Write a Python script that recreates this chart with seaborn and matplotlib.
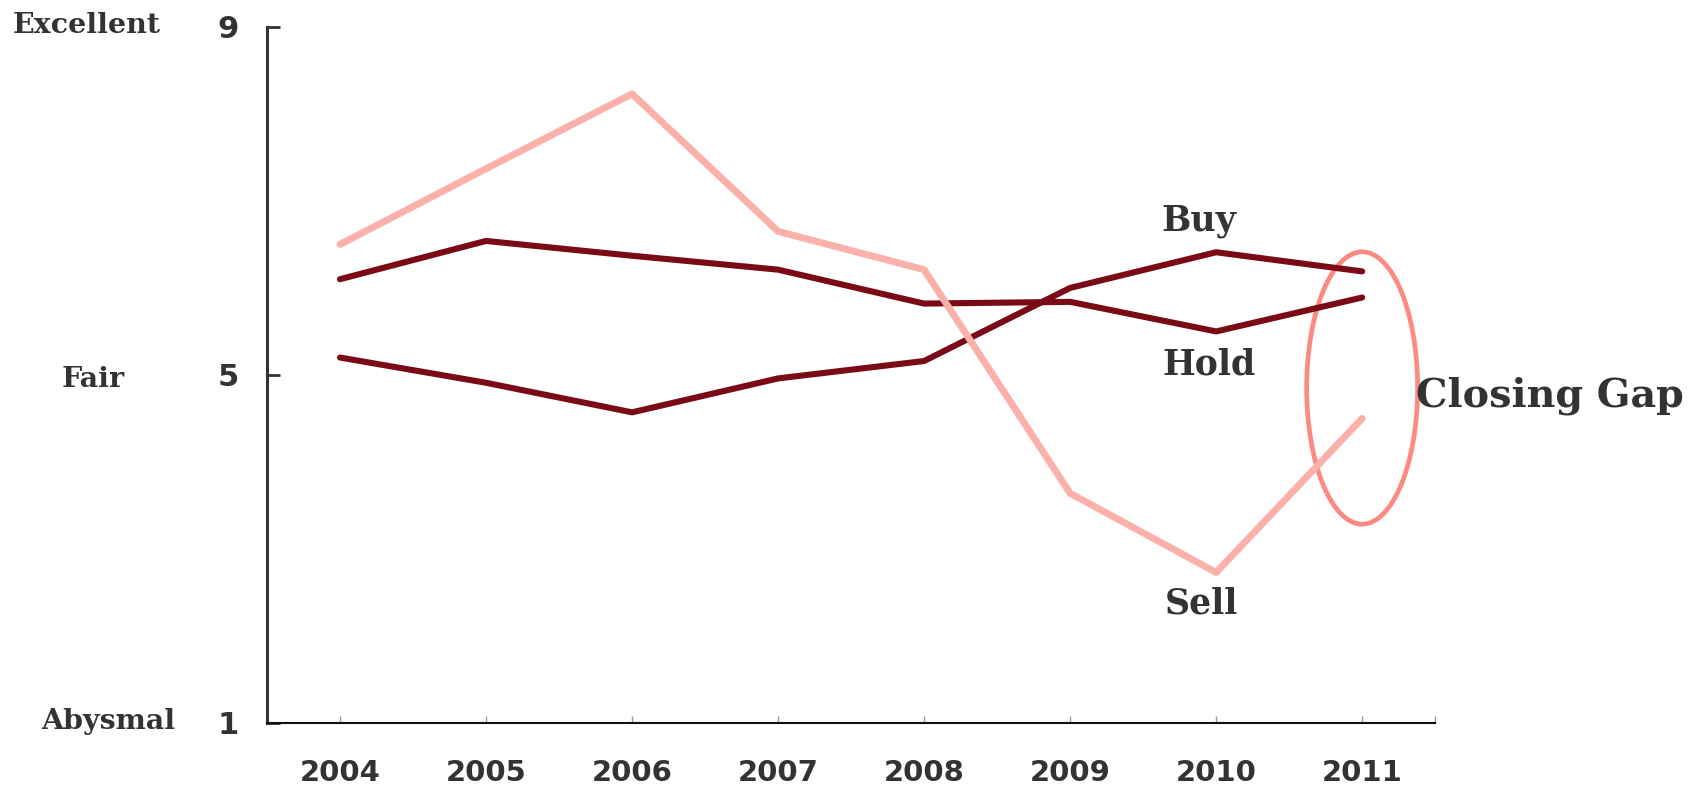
import matplotlib
matplotlib.use("Agg")
import matplotlib.pyplot as plt
from matplotlib.patches import Ellipse
import seaborn as sns
import pandas as pd

# Analyst recommendation ratings by year
years = [2004, 2005, 2006, 2007, 2008, 2009, 2010, 2011]
buy = [5.20, 4.91, 4.57, 4.96, 5.16, 6.00, 6.41, 6.19]
hold = [6.10, 6.54, 6.37, 6.21, 5.82, 5.84, 5.50, 5.89]
sell = [6.50, 7.37, 8.23, 6.65, 6.21, 3.64, 2.73, 4.50]

y_ticks = [1, 5, 9]
y_names = ["Abysmal", "Fair", "Excellent"]

df = pd.DataFrame({
    "year": years * 3,
    "rating": buy + hold + sell,
    "series": ["Buy"] * 8 + ["Hold"] * 8 + ["Sell"] * 8,
})

sns.set_theme(style="white")
plt.rcParams["font.family"] = ["DejaVu Sans"]

dark = "#7a0b16"
pink = "#fbb0aa"
ring = "#fb8a82"
text_col = "#333333"

fig = plt.figure(figsize=(16.93, 7.91), dpi=100)
ax = fig.add_axes([0.1577, 0.086, 0.69, 0.880])

sns.lineplot(data=df[df.series != "Sell"], x="year", y="rating", units="series",
             estimator=None, color=dark, linewidth=4.4, ax=ax,
             solid_capstyle="round", solid_joinstyle="round")
sns.lineplot(data=df[df.series == "Sell"], x="year", y="rating",
             color=pink, linewidth=5.0, ax=ax,
             solid_capstyle="round", solid_joinstyle="round")

ax.set_xlim(2003.5, 2011.5)
ax.set_ylim(1, 9)
ax.set_xlabel("")
ax.set_ylabel("")

ax.set_xticks(years)
ax.set_xticklabels([str(y) for y in years])
ax.set_xticks([2011.5], minor=True)
ax.set_yticks(y_ticks)
ax.set_yticklabels([str(v) for v in y_ticks])

for lab in ax.get_xticklabels() + ax.get_yticklabels():
    lab.set_fontweight("bold")
    lab.set_color(text_col)
    lab.set_fontsize(21)
for lab in ax.get_yticklabels():
    lab.set_fontsize(22)

ax.tick_params(axis="y", direction="in", length=9, width=2, color=text_col,
               pad=20, left=True)
ax.tick_params(axis="x", which="both", direction="in", length=5, width=1,
               color="#999999", pad=26, bottom=True)

for s in ["top", "right"]:
    ax.spines[s].set_visible(False)
ax.spines["left"].set_color(text_col)
ax.spines["left"].set_linewidth(2.2)
ax.spines["bottom"].set_color("#111111")
ax.spines["bottom"].set_linewidth(1.5)

# Rating scale names beside the y ticks
serif = ["DejaVu Serif"]
for name, x, y in [("Excellent", 0.0514, 0.968), ("Fair", 0.0549, 0.520),
                   ("Abysmal", 0.0638, 0.088)]:
    fig.text(x, y, name, ha="center", va="center", fontsize=20.5,
             fontweight="bold", family=serif, color=text_col)

# Series labels
for name, x, y in [("Buy", 2009.88, 6.77), ("Hold", 2009.95, 5.12),
                   ("Sell", 2009.90, 2.37)]:
    ax.text(x, y, name, ha="center", va="center", fontsize=25,
            fontweight="bold", family=serif, color=text_col)

# Highlight around the final year
ax.add_patch(Ellipse((2011, 4.85), 0.76, 3.13, fill=False, edgecolor=ring,
                     linewidth=3.4, clip_on=False))
ax.text(2011.37, 4.76, "Closing Gap", ha="left", va="center", fontsize=28.5,
        fontweight="bold", family=serif, color=text_col, clip_on=False)

fig.savefig("out.png", dpi=100, facecolor="white")
